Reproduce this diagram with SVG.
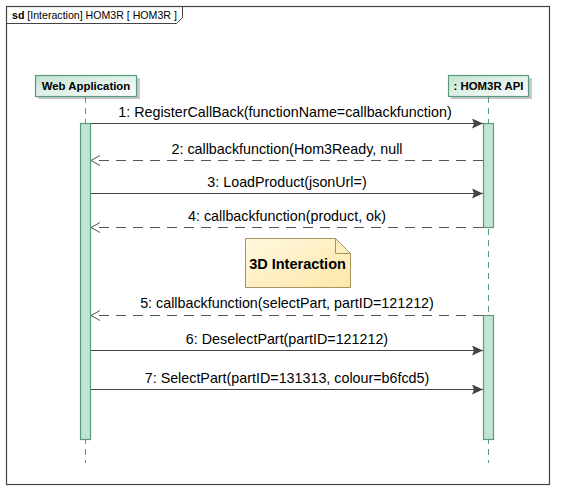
<svg xmlns="http://www.w3.org/2000/svg" width="564" height="499" viewBox="0 0 564 499">
<defs>
<linearGradient id="hdr" x1="0" y1="0" x2="1" y2="1">
<stop offset="0" stop-color="#c2e3d1"/>
<stop offset="1" stop-color="#ffffff"/>
</linearGradient>
<linearGradient id="note" x1="0" y1="0" x2="1" y2="1">
<stop offset="0" stop-color="#fff8e0"/>
<stop offset="1" stop-color="#fde7a8"/>
</linearGradient>
<marker id="filled" markerWidth="12" markerHeight="10" refX="11" refY="5" orient="auto" markerUnits="userSpaceOnUse">
<path d="M0,0 L11,5 L0,10 L2,5 Z" fill="#444"/>
</marker>
<marker id="open" markerWidth="12" markerHeight="12" refX="10" refY="6" orient="auto" markerUnits="userSpaceOnUse">
<path d="M1,1 L10,6 L1,11" fill="none" stroke="#555" stroke-width="1"/>
</marker>
</defs>
<style>
text{font-family:"Liberation Sans",Arial,sans-serif;fill:#000}
.lbl{font-size:14.3px;text-anchor:middle}
.hdr{font-size:11.4px;font-weight:bold;text-anchor:middle}
.box{fill:url(#hdr);stroke:#5a9a7c;stroke-width:1.2}
.shadow{fill:#c8c8c8}
.life{stroke:#5a9a7c;stroke-width:1;stroke-dasharray:6,5}
.act{fill:#c2e4d2;stroke:#5a9a7c;stroke-width:1.2}
.sync{stroke:#444;stroke-width:1;fill:none;marker-end:url(#filled)}
.reply{stroke:#555;stroke-width:1;fill:none;stroke-dasharray:10,7;marker-end:url(#open)}
</style>
<rect width="564" height="499" fill="#ffffff"/>
<g id="frame">
<rect x="6.5" y="6.5" width="543" height="478" fill="none" stroke="#444" stroke-width="1.2"/>
<path d="M6.5,23.5 H176.5 L182.5,17.5 V6.5" fill="none" stroke="#444" stroke-width="1"/>
<text x="12" y="19" font-size="10.6px"><tspan font-weight="bold">sd</tspan> [Interaction] HOM3R [ HOM3R ]</text>
</g>
<g id="webapp">
<rect class="shadow" x="38" y="78" width="102" height="21"/>
<rect class="box" x="35.5" y="75.5" width="101" height="21"/>
<text class="hdr" x="86" y="89.5">Web Application</text>
<line class="life" x1="85.5" y1="97" x2="85.5" y2="463"/>
<rect class="act" x="80.5" y="123.5" width="10" height="316"/>
</g>
<g id="hom3rapi">
<rect class="shadow" x="451" y="78" width="81" height="21"/>
<rect class="box" x="448.5" y="75.5" width="80" height="21"/>
<text class="hdr" x="488.5" y="89.5">: HOM3R API</text>
<line class="life" x1="488.5" y1="97" x2="488.5" y2="463"/>
<rect class="act" x="483.5" y="123.5" width="10" height="104"/>
<rect class="act" x="483.5" y="315.5" width="10" height="124"/>
</g>
<g id="note3d">
<path d="M245.5,238.5 H335.5 L350.5,253.5 V287.5 H245.5 Z" fill="url(#note)" stroke="#a89462" stroke-width="1"/>
<path d="M335.5,238.5 V253.5 H350.5" fill="none" stroke="#a89462" stroke-width="1"/>
<text x="297.5" y="269" font-size="14.5px" font-weight="bold" text-anchor="middle">3D Interaction</text>
</g>
<g id="connectors">
<line class="sync" x1="91" y1="123.5" x2="483" y2="123.5"/>
<text class="lbl" x="285" y="117">1: RegisterCallBack(functionName=callbackfunction)</text>
<line class="reply" x1="483" y1="160.5" x2="91" y2="160.5"/>
<text class="lbl" x="287" y="154">2: callbackfunction(Hom3Ready, null</text>
<line class="sync" x1="91" y1="193.5" x2="483" y2="193.5"/>
<text class="lbl" x="287" y="187">3: LoadProduct(jsonUrl=)</text>
<line class="reply" x1="483" y1="227.5" x2="91" y2="227.5"/>
<text class="lbl" x="287" y="221">4: callbackfunction(product, ok)</text>
<line class="reply" x1="483" y1="315.5" x2="91" y2="315.5"/>
<text class="lbl" x="287" y="308">5: callbackfunction(selectPart, partID=121212)</text>
<line class="sync" x1="91" y1="350.5" x2="483" y2="350.5"/>
<text class="lbl" x="287" y="344">6: DeselectPart(partID=121212)</text>
<line class="sync" x1="91" y1="389.5" x2="483" y2="389.5"/>
<text class="lbl" x="287" y="383">7: SelectPart(partID=131313, colour=b6fcd5)</text>
</g>
</svg>
